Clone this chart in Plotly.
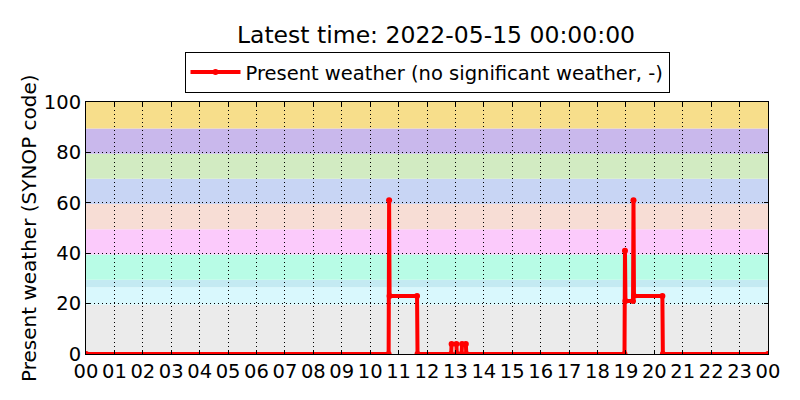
import plotly.graph_objects as go

# present weather observations (SYNOP code), breakpoints of the day
times = [
    "2022-05-14 00:00", "2022-05-14 10:39", "2022-05-14 10:40", "2022-05-14 10:41",
    "2022-05-14 11:39", "2022-05-14 11:40", "2022-05-14 12:51", "2022-05-14 12:52",
    "2022-05-14 13:02", "2022-05-14 13:03", "2022-05-14 13:13", "2022-05-14 13:14",
    "2022-05-14 13:22", "2022-05-14 13:23", "2022-05-14 18:57", "2022-05-14 18:58",
    "2022-05-14 18:59", "2022-05-14 19:15", "2022-05-14 19:16", "2022-05-14 19:17",
    "2022-05-14 20:17", "2022-05-14 20:18", "2022-05-15 00:00",
]
codes = [0, 0, 61, 23, 23, 0, 0, 4, 4, 0, 0, 4, 4, 0, 0, 41, 21, 21, 61, 23, 23, 0, 0]

# background bands for the SYNOP code groups
band_edges = [0, 19.5, 26.5, 29.5, 39.5, 49.5, 59.5, 69.5, 79.5, 89.5, 100]
band_colors = ["#ebebeb", "#d9f8fd", "#c4eaf2", "#b8fce6", "#fbcafb",
               "#f7ddd5", "#c8d5f4", "#d2ebc2", "#c9b8ec", "#f7de8b"]

title = "Latest time: 2022-05-15 00:00:00"
series_name = "Present weather (no significant weather, -)"
ylabel = "Present weather (SYNOP code)"

fig = go.Figure()
fig.add_trace(go.Scatter(
    x=times, y=codes, mode="lines+markers", name=series_name,
    line=dict(color="red", width=4),
    marker=dict(color="red", size=6),
))

for lo, hi, c in zip(band_edges[:-1], band_edges[1:], band_colors):
    fig.add_shape(type="rect", xref="paper", yref="y", x0=0, x1=1, y0=lo, y1=hi,
                  fillcolor=c, line_width=0, layer="below")

axis_common = dict(
    showline=True, linecolor="black", linewidth=1, mirror="ticks",
    ticks="inside", ticklen=4, tickcolor="black",
    showgrid=True, gridcolor="black", griddash="1px,3px", gridwidth=1,
    zeroline=False, tickfont=dict(size=19.5, color="black"), automargin=False,
)

fig.update_xaxes(type="date", range=["2022-05-14 00:00", "2022-05-15 00:00"],
                 dtick=3600000, tickformat="%H", **axis_common)
fig.update_yaxes(range=[0, 100], dtick=20, **axis_common)

# y label as rotated annotation so it can sit where the reference has it
fig.add_annotation(text=ylabel, xref="paper", yref="paper", x=-0.0836, y=0.5,
                   xanchor="center", yanchor="middle", textangle=-90,
                   showarrow=False, font=dict(size=20))

# page body adds an 8px offset, margins compensate for it
fig.update_layout(
    width=800, height=400,
    margin=dict(l=78, r=40, t=94, b=54),
    paper_bgcolor="white", plot_bgcolor="white",
    font=dict(family="DejaVu Sans", color="black"),
    title=dict(text=title, x=0.535, xanchor="center", y=0.933, yanchor="middle",
               yref="container", font=dict(size=23.5)),
    showlegend=True,
    legend=dict(orientation="h", x=0.5, xanchor="center", y=1.036, yanchor="bottom",
                bordercolor="black", borderwidth=1, font=dict(size=19.5), itemwidth=50),
)

fig.write_html("out.html")
